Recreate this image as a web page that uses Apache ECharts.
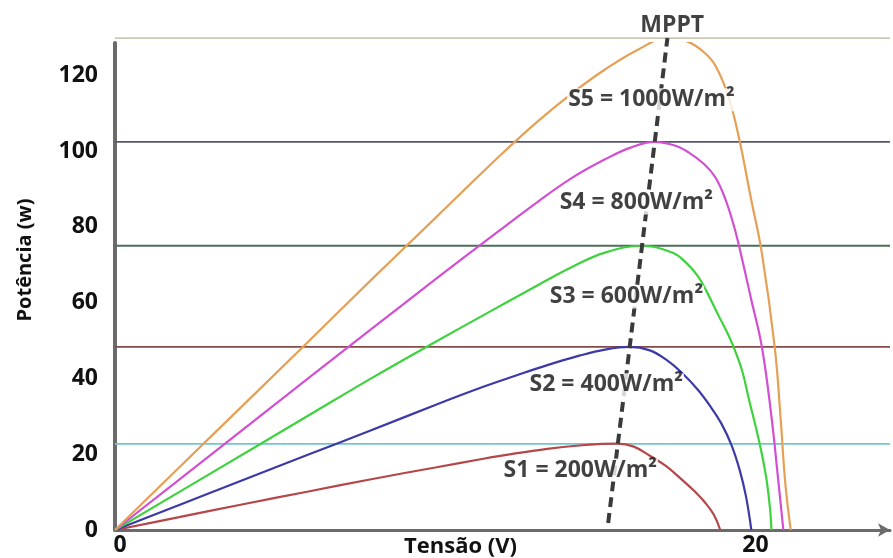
<!DOCTYPE html>
<html>
<head>
<meta charset="utf-8">
<script src="https://cdn.jsdelivr.net/npm/echarts@6/dist/echarts.min.js"></script>
<style>html,body{margin:0;padding:0;background:#fff;}#c{width:893px;height:558px;}</style>
</head>
<body>
<div id="c"></div>
<script>
// ---- data ----
const s1 = [[0,0],[2,3.4],[4,6.8],[6,10.1],[8,13.4],[10,16.5],[11.5,18.8],[12.5,20.2],[13.5,21.4],[14.5,22.3],[15.2,22.7],[15.7,22.8],[16.2,22.0],[16.7,19.6],[17.2,16.9],[17.7,13.3],[18.1,10.2],[18.45,7],[18.7,4],[18.9,0]];
const s2 = [[0,0],[3,9.9],[6,19.8],[8,26.3],[10,33.0],[11.5,37.8],[12.5,40.7],[13.5,43.5],[14.5,46.0],[15.3,47.6],[16.07,48.3],[16.7,47.4],[17.2,45],[17.7,41.5],[18.2,37],[18.6,32.5],[18.94,28],[19.25,22.4],[19.5,16],[19.7,9],[19.87,0]];
const s3 = [[0,0],[3,15],[6,30],[8,40],[10,49.6],[12,59.0],[13.2,64.6],[14.27,69.4],[15.3,73.2],[16.46,75],[17.4,73.2],[17.8,70.8],[18.2,67],[18.5,62.5],[18.85,56.5],[19.15,51.5],[19.4,46.5],[19.6,41.5],[19.8,34.3],[20,27.5],[20.2,20],[20.35,13],[20.45,6],[20.5,0]];
const s4 = [[0,0],[3,19.9],[6,39.8],[8,53],[10,66.1],[12,79.0],[13.2,86.6],[14.27,92.9],[15.3,97.8],[16.1,100.9],[16.85,102.4],[17.5,101.4],[17.9,99.7],[18.4,96.5],[18.75,93],[19.05,87.5],[19.3,81],[19.47,75.5],[19.87,60.7],[20.2,48.3],[20.5,29.8],[20.7,14],[20.87,0]];
const s5 = [[0,0],[3,24.7],[6,49.4],[8,66],[10,82.3],[12,98.6],[13.2,107.8],[14.27,115.2],[15.3,121.5],[16.3,126.6],[17.25,129.8],[17.9,128.8],[18.4,126],[18.75,122.5],[19.15,114.5],[19.47,104],[19.87,87],[20.2,73],[20.6,48.3],[20.78,30],[20.93,12.4],[21.1,0]];
const maxPowerLevels = [22.7, 48.3, 75, 102.4, 129.8];
const mppt = [[15.4,1.85],[17.25,129.8]];
const annotationText = ['S1 = 200W/m²','S2 = 400W/m²','S3 = 600W/m²','S4 = 800W/m²','S5 = 1000W/m²','MPPT'];
const annotationV = [14.53, 15.34, 15.97, 16.28, 16.75, 17.4];
const annotationP = [15.8, 38.3, 61.5, 86.3, 113.5, 133.2];
const xTicks = [0, 20];
const yTicks = [0, 20, 40, 60, 80, 100, 120];

// ---- chart ----
const xMax = 24.2, yMax = 128.5;
const curveColors = ['#b5474a','#3b3aa6','#3fd23f','#d24fd2','#e6a055'];
const refColors = ['#72c6d2','#85494a','#4d6e58','#55566c','#cdc9b4'];
const FONT = '"Open Sans", sans-serif';
const curves = [s1,s2,s3,s4,s5];

const series = [];
maxPowerLevels.forEach((v,i) => {
  series.push({type:'line', data:[[0,v],[xMax,v]], showSymbol:false, clip:false, silent:true,
    lineStyle:{color:refColors[i], width:1.8}, z:1});
});
curves.forEach((d,i) => {
  series.push({type:'line', name:'S'+(i+1), data:d, showSymbol:false, smooth:0.4,
    lineStyle:{color:curveColors[i], width:2.2}, z:2});
});
series.push({type:'line', data:mppt, showSymbol:false, clip:false,
  lineStyle:{color:'#3a3a3a', width:4, type:[10,6]}, z:3});
series.push({type:'scatter', symbolSize:0, clip:false, z:5,
  data: annotationText.map((t,i)=>[annotationV[i], annotationP[i], t]),
  label:{show:true, position:'inside', formatter:p=>p.data[2], color:'#111111',
    fontFamily:FONT, fontWeight:'bold', fontSize:23,
    backgroundColor:'#ffffff', padding:[0,1]}});

const chart = echarts.init(document.getElementById('c'));
chart.setOption({
  animation:false,
  backgroundColor:'#ffffff',
  grid:{left:115, right:3, top:43, bottom:28, containLabel:false, outerBoundsMode:'none'},
  xAxis:{type:'value', min:0, max:xMax, interval:20,
    name:'Tensão (V)', nameLocation:'middle', nameGap:6, nameMoveOverlap:false,
    nameTextStyle:{fontFamily:FONT, fontWeight:'bold', fontSize:22, color:'#111111', padding:[0,84,0,0]},
    axisLine:{lineStyle:{color:'#6b6b6b', width:3}, symbol:['none','arrow'], symbolSize:[10,12]},
    axisTick:{show:false}, splitLine:{show:false},
    axisLabel:{margin:4, showMaxLabel:false,
      formatter:v => xTicks.includes(v) ? (v===0 ? '{z|0}' : String(v)) : '',
      fontFamily:FONT, fontWeight:'bold', fontSize:23, color:'#111111',
      rich:{z:{fontFamily:FONT, fontWeight:'bold', fontSize:23, color:'#111111', padding:[0,0,0,10]}}}},
  yAxis:{type:'value', min:0, max:yMax, interval:20,
    name:'Potência (w)', nameLocation:'middle', nameGap:80, nameRotate:90, nameMoveOverlap:false,
    nameTextStyle:{fontFamily:FONT, fontWeight:'bold', fontSize:20, color:'#111111', padding:[0,0,0,53]},
    axisLine:{show:true, lineStyle:{color:'#6b6b6b', width:4}},
    axisTick:{show:false}, splitLine:{show:false},
    axisLabel:{margin:17, showMaxLabel:false,
      formatter:v => yTicks.includes(v) ? String(v) : '',
      fontFamily:FONT, fontWeight:'bold', fontSize:23, color:'#111111'}},
  series:series
});
</script>
</body>
</html>
